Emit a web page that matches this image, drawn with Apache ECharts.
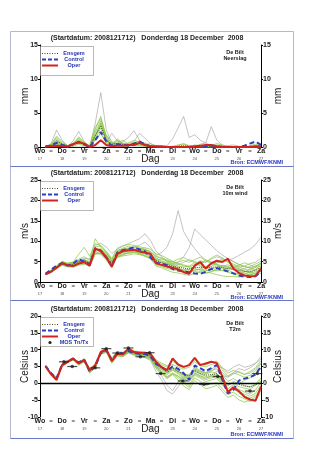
<!DOCTYPE html>
<html>
<head>
<meta charset="utf-8">
<script src="https://cdn.jsdelivr.net/npm/echarts@6/dist/echarts.min.js"></script>
<style>
  html, body { margin: 0; padding: 0; background: #fff; }
  #chart { width: 327px; height: 450px; }
</style>
</head>
<body>
<div id="chart"></div>
<script>
// Forecast steps (hours after 2008121712), 6-hourly up to day 10
const hours = [6,12,18,24,30,36,42,48,54,60,66,72,78,84,90,96,102,108,114,120,
               126,132,138,144,150,156,162,168,174,180,186,192,198,204,210,216,222,228,234,240];

// Day labels on the time axis (one per 24 h) and dates below them
const dayNames = ['Wo','Do','Vr','Za','Zo','Ma','Di','Wo','Do','Vr','Za'];
const dayDates = ['17','18','19','20','21','22','23','24','25','26','27'];

// ---------------- Neerslag (mm) ----------------
const precipOper    = [0.1,0.1,0.2,0.1,0.1,0.4,0.7,0.5,0.0,0.3,1.0,0.3,0.1,0.2,0.2,0.3,0.3,0.6,0.3,0.1,0.1,0.1,0,0,0,0,0,0.1,0.2,0.3,0.3,0.1,0,0,0,0,0,0,0.1,0.1];
const precipControl = [0.1,0.2,0.6,0.3,0.1,0.4,0.7,0.4,0.0,1.0,2.2,0.8,0.2,0.4,0.3,0.2,0.5,0.8,0.4,0.1,0,0,0,0,0,0,0,0,0,0.1,0.2,0.1,0,0,0,0,0.2,0.5,0.8,0.3];
const precipMean    = [0.05,0.2,0.9,0.4,0.1,0.4,0.9,0.4,0.05,1.7,3.1,1.0,0.4,0.5,0.4,0.3,0.5,0.6,0.3,0.1,0,0,0,0,0.1,0.2,0.1,0.1,0.1,0.1,0.1,0.1,0.1,0,0,0,0,0.1,0.1,0.1];
const precipMembers = [
  [0,0.3,1.4,0.6,0.1,0.5,1.2,0.4,0,1.8,3.6,1.0,0.4,0.8,0.3,0.2,0.6,0.9,0.4,0.1,0,0,0,0,0,0,0.1,0.3,0.2,0,0,0,0,0,0,0,0,0.1,0.2,0.1],
  [0,0.2,0.8,0.3,0,0.3,1.5,0.7,0.1,2.6,4.5,1.4,0.3,1.2,0.5,0.2,0.3,0.5,0.2,0,0,0.1,0,0,0,0,0,0,0.4,0.6,0.2,0,0,0,0,0,0,0,0,0],
  [0,0.1,0.5,0.2,0,0.2,0.9,0.5,0,1.2,2.8,0.8,0.6,0.4,0.2,0.6,1.0,0.7,0.3,0.5,0.2,0,0,0,0,0,0,0,0,0,0,0.3,0.2,0,0,0,0,0,0,0],
  [0,0.4,1.6,0.8,0.2,0.6,1.0,0.3,0,2.2,3.9,1.2,0.2,0.6,1.0,0.4,0.2,0.4,0.6,0.2,0,0,0,0,0.2,0.4,0.1,0,0,0,0,0,0,0,0,0,0,0,0,0],
  [0,0.1,0.3,0.1,0,0.4,0.6,0.2,0,1.5,3.2,1.8,0.8,0.3,0.1,0.1,0.4,0.8,0.5,0.2,0,0,0,0,0,0,0,0,0,0,0.2,0.5,0.3,0.1,0,0,0,0,0,0],
  [0,0.2,1.0,0.5,0.1,0.1,0.4,0.2,0,1.0,2.0,0.6,0.3,0.2,0.2,0.3,0.7,0.4,0.2,0.1,0,0,0,0,0,0,0,0,0,0,0,0,0,0,0,0,0,0,0,0],
  [0,0.3,1.2,0.4,0,0.5,1.3,0.6,0.2,2.9,4.2,1.6,0.5,1.0,0.6,0.4,0.5,0.3,0.1,0,0,0,0,0.1,0.3,0.5,0.2,0,0,0,0,0,0,0,0,0,0,0,0,0],
  [0,0,0.4,0.2,0,0.3,0.8,0.4,0,1.6,3.4,0.9,0.2,0.5,0.3,0.2,0.2,0.2,0.1,0,0,0,0,0,0,0,0,0,0,0,0,0,0.1,0.2,0.3,0.1,0,0.2,0.4,0.2]
];
const precipOutliers = [
  [0,0.5,2.5,1.0,0.2,0.4,0.8,0.3,0.1,3.5,8.0,2.5,0.6,0.3,0.8,1.4,2.4,1.0,0.4,0.2,0,0,0,0,0,0,0,0,0,0,0,0,0,0,0,0,0,0,0,0],
  [0,0.2,0.6,0.3,0.1,0.9,2.3,0.8,0.1,1.2,2.0,0.7,2.0,0.9,0.4,0.5,0.8,2.0,1.3,0.5,0,0,0,0,0,0,0,0,0,0,0,0,0,0,0,0,0,0,0,0],
  [0,0,0,0,0,0,0,0,0,0,0,0,0,0,0,0,0,0,0,0,0,0,0.2,1.2,2.8,4.5,1.4,1.8,1.0,0.6,3.0,1.0,0.3,0,0,0,0,0,0,0]
];

// ---------------- 10m wind (m/s) ----------------
const windOper    = [1.9,2.5,3.5,4.6,4.1,3.9,4.5,4.9,4.0,8.2,7.6,6.0,3.8,6.9,7.6,7.8,7.9,7.5,7.2,6.9,4.6,4.2,3.8,3.5,3.1,2.4,2.0,4.0,4.9,3.3,4.6,5.2,4.9,5.7,3.3,2.2,1.6,1.4,1.5,3.3];
const windControl = [2.0,3.0,4.0,4.6,4.0,4.5,5.6,5.0,4.3,8.3,7.7,6.0,3.9,7.2,7.8,8.1,8.5,8.0,7.5,6.0,4.7,4.5,4.1,3.2,2.8,2.6,2.4,2.1,2.0,2.5,3.2,3.4,3.0,2.6,2.1,1.6,1.3,1.2,1.4,2.6];
const windMean    = [2.0,2.6,3.6,4.6,4.2,4.2,4.9,5.2,4.6,8.0,7.8,6.4,4.6,6.9,7.4,7.7,7.8,7.5,7.2,6.6,5.2,4.7,4.2,3.8,3.6,3.4,3.2,3.5,3.6,3.5,3.6,3.7,3.5,3.3,3.0,2.8,2.6,2.6,2.8,3.6];
const windMembers = [
  [2.1,2.8,3.9,5.1,4.6,4.8,5.6,6.2,5.4,10.6,8.5,7.2,5.1,7.6,8.3,8.8,8.4,8.1,7.9,7.4,6.2,5.8,5.1,4.6,4.9,5.3,4.8,5.5,6.1,5.2,4.4,4.9,5.6,4.8,4.1,3.6,3.9,4.5,4.8,5.9],
  [1.8,2.4,3.3,4.2,3.8,3.6,4.1,4.4,3.9,7.1,7.0,5.6,3.8,6.1,6.8,7.1,7.3,6.9,6.4,5.6,3.9,3.5,2.9,2.4,2.2,1.9,1.6,2.1,2.6,2.4,2.2,1.8,1.5,1.3,1.4,1.2,1.5,1.9,1.7,2.2],
  [2.0,2.7,3.7,4.8,4.5,4.9,6.8,8.5,6.3,9.4,9.0,7.6,5.8,8.3,8.9,9.2,9.0,8.6,8.4,8.0,6.9,6.5,5.8,5.1,4.4,4.0,3.6,4.3,5.2,4.8,5.9,6.6,5.9,5.0,4.4,3.8,3.1,2.9,3.6,4.8],
  [2.2,2.9,3.8,4.4,3.9,4.0,4.6,4.7,4.1,7.5,7.8,6.6,4.9,7.4,7.9,8.1,8.6,8.3,8.1,7.2,5.6,4.8,4.5,4.1,3.5,2.8,2.5,3.0,3.1,3.8,4.3,4.1,3.4,2.9,2.3,2.0,2.4,3.2,3.9,4.3],
  [1.9,2.5,3.5,4.7,4.4,4.3,5.0,5.3,4.7,8.4,7.3,5.9,4.2,6.4,6.9,7.0,7.2,7.6,7.8,7.0,5.3,5.1,4.8,4.4,3.9,3.7,3.9,4.7,3.9,3.4,3.0,2.7,2.9,3.6,3.8,3.3,2.7,2.2,2.5,3.0],
  [2.0,2.6,3.4,4.5,4.0,3.9,4.4,4.6,4.4,7.9,8.1,6.9,5.3,6.0,6.4,6.6,6.9,6.7,6.3,5.8,4.5,4.0,3.6,3.3,3.0,2.6,2.2,2.8,3.2,2.9,2.6,3.2,3.9,4.2,3.7,3.1,2.6,2.3,2.0,2.6],
  [2.1,2.7,3.8,4.9,4.6,4.6,5.3,5.5,4.8,8.0,7.4,6.1,4.0,7.1,7.8,8.0,7.8,7.1,6.9,6.4,5.4,5.6,5.3,4.9,5.6,6.0,5.3,4.8,4.2,3.6,3.8,4.6,5.2,5.8,5.0,4.3,3.9,3.4,3.0,3.5],
  [1.8,2.5,3.6,4.3,4.1,4.4,5.1,5.4,4.6,7.0,6.8,5.4,3.4,6.5,7.3,7.5,7.4,7.0,6.6,6.0,4.2,3.8,3.3,3.0,2.8,3.0,2.9,2.6,2.3,2.1,2.5,3.0,2.8,2.4,2.0,1.7,1.9,2.4,3.1,4.1],
  [2.0,2.8,3.9,5.0,4.3,4.1,4.9,5.2,4.9,8.6,8.8,7.3,5.5,7.8,8.1,8.3,7.9,7.7,7.5,6.8,5.9,5.2,4.6,4.0,3.3,2.9,3.1,3.8,4.6,5.4,4.9,4.3,3.7,3.2,3.5,4.1,4.7,4.2,3.6,3.9],
  [1.9,2.4,3.2,4.1,3.7,3.8,4.3,4.5,3.8,6.8,7.1,6.4,4.7,6.2,6.6,7.2,7.7,8.2,8.0,7.5,6.3,5.9,5.4,4.9,4.5,4.2,3.8,3.3,2.9,2.7,3.1,3.6,4.0,3.8,3.2,2.6,2.1,1.8,2.2,3.1]
];
const windOutliers = [
  [2.0,2.6,3.5,4.6,4.3,4.4,5.0,5.5,5.0,8.2,8.0,7.0,5.5,7.5,8.0,8.3,8.6,9.0,9.8,8.5,6.5,7.2,8.6,11.8,17.5,12.4,10.0,8.2,6.5,5.4,4.8,4.3,4.0,3.6,3.2,3.0,3.3,3.8,4.4,5.1],
  [2.1,2.7,3.7,4.8,4.4,4.6,5.3,5.8,5.6,9.0,9.5,8.6,7.0,8.0,8.8,9.4,10.0,10.6,11.8,10.2,7.6,6.2,5.0,4.4,4.8,6.2,8.4,13.0,11.6,10.3,9.0,7.7,6.6,5.8,5.0,4.3,3.7,3.5,3.9,4.6],
  [1.9,2.5,3.4,4.4,4.0,4.0,4.7,5.0,4.6,7.4,7.0,5.8,4.4,6.6,7.2,7.4,7.6,7.3,7.0,6.3,5.0,4.7,4.4,4.1,4.3,4.8,5.5,5.0,4.6,4.9,5.6,6.2,5.7,5.2,5.8,6.5,7.3,8.0,9.2,11.0]
];

// ---------------- T2m (Celsius) ----------------
const tempOper    = [5.0,2.7,1.0,5.4,6.4,7.4,5.9,6.9,3.9,5.4,9.3,10.1,6.6,8.8,8.6,10.3,9.3,9.1,9.1,8.8,6.4,4.8,3.9,7.4,5.6,4.9,5.4,7.6,5.4,5.9,6.4,6.0,2.0,-2.6,-1.2,-2.3,-4.0,-4.8,-5.2,-1.0];
const tempControl = [5.2,3.0,1.6,5.6,6.6,7.3,6.2,7.0,3.5,5.0,9.0,9.8,7.0,9.0,8.9,9.6,9.0,8.8,8.7,8.0,5.8,4.8,3.8,5.0,4.3,3.0,1.0,5.3,4.5,3.6,4.5,5.5,1.0,-3.0,-2.0,0.8,1.4,1.8,2.6,5.0];
const tempMean    = [5.1,2.9,1.4,5.5,6.5,7.2,6.0,6.8,3.8,5.2,9.1,9.8,6.9,8.8,8.6,9.8,9.1,8.8,8.6,8.1,5.8,4.6,3.3,4.5,3.6,2.6,2.2,3.8,2.9,2.4,2.6,2.8,1.3,-0.4,0.2,-0.3,-0.8,-1.0,-0.5,0.6];
const tempMembers = [
  [5.0,2.8,1.2,5.2,6.2,7.0,5.7,6.6,3.4,4.9,8.8,9.6,6.4,8.4,8.2,9.4,8.8,8.4,8.2,7.6,5.1,3.6,2.0,3.1,2.2,0.4,-0.6,2.4,1.6,0.5,1.0,1.4,-0.5,-2.2,-1.4,-2.9,-3.8,-4.4,-3.6,-1.8],
  [5.3,3.2,1.8,5.8,6.8,7.5,6.3,7.2,4.2,5.6,9.4,10.2,7.3,9.2,9.0,10.1,9.5,9.3,9.0,8.6,6.6,5.6,4.8,5.6,4.9,4.2,4.8,6.4,5.2,4.9,5.6,6.1,4.0,2.2,3.1,2.5,1.8,2.4,3.6,5.9],
  [5.1,2.6,0.9,5.1,6.4,7.1,5.4,6.4,3.0,4.6,8.6,9.2,6.0,8.1,7.9,9.0,8.4,8.0,7.8,7.1,4.4,2.9,1.4,2.6,1.0,-0.8,-1.9,0.8,-0.4,-1.6,-1.2,-0.6,-2.4,-4.2,-3.5,-4.9,-5.6,-5.0,-4.1,-2.3],
  [4.9,3.0,1.5,5.6,6.6,7.4,6.1,7.0,4.0,5.5,9.2,9.9,7.0,9.0,8.7,9.9,9.2,9.0,8.9,8.4,6.2,5.1,3.9,4.9,3.8,2.8,2.5,4.6,3.5,3.1,3.8,4.3,2.6,0.6,1.4,0.4,-0.6,-1.2,-0.2,1.6],
  [5.2,2.9,1.3,5.3,6.3,7.3,5.8,6.7,3.7,5.1,9.0,9.7,6.7,8.7,8.4,9.7,9.0,8.7,8.5,7.9,5.5,4.2,3.0,4.0,3.1,1.7,1.1,3.2,2.3,1.6,2.0,2.4,0.4,-1.6,-0.5,-1.8,-2.6,-3.2,-2.0,0.4],
  [5.0,2.7,1.1,5.4,6.5,7.2,6.0,6.9,3.6,5.0,9.1,9.9,6.8,8.9,8.6,9.9,9.2,8.9,8.7,8.2,5.9,4.7,3.4,4.6,3.5,2.2,1.6,4.0,3.2,2.7,3.4,3.0,0.8,-0.8,0.6,-0.2,0.9,1.6,2.9,4.5],
  [5.2,3.1,1.7,5.7,6.7,7.2,6.4,7.3,4.4,5.8,9.5,10.3,7.6,9.4,9.2,10.4,9.6,9.4,9.2,8.9,7.0,6.0,5.2,6.6,5.4,4.6,5.8,6.9,5.8,5.4,6.3,6.6,4.6,3.0,3.8,3.3,2.6,3.5,4.6,6.8],
  [4.8,2.6,1.0,5.0,6.0,7.0,5.5,6.5,3.2,4.7,8.7,9.4,6.2,8.3,8.0,9.2,8.6,8.2,8.0,7.4,4.8,3.2,1.8,2.9,1.6,0.1,-1.2,1.6,0.6,-0.6,-0.2,0.2,-1.6,-3.4,-2.6,-3.8,-4.6,-5.4,-4.8,-3.0],
  [5.1,2.8,1.4,5.5,6.6,7.3,6.0,6.9,3.8,5.3,9.2,9.9,6.9,8.9,8.7,9.8,9.1,8.8,8.6,8.0,5.6,4.4,3.2,4.3,3.4,2.4,2.0,3.6,2.8,2.0,2.2,2.6,1.6,-0.2,0.0,-1.0,-1.4,-1.8,-0.6,1.2],
  [5.0,2.8,1.3,5.4,6.4,7.2,6.0,6.8,3.7,5.2,9.1,9.8,6.8,8.8,8.5,9.7,9.0,8.8,8.5,7.9,5.3,3.9,2.6,3.9,2.8,1.4,0.6,2.8,1.9,1.1,1.6,2.0,0.0,-2.4,-1.8,-2.4,-3.2,-3.8,-3.0,-0.4]
];
const tempOutliers = [
  [5.0,2.7,1.2,5.3,6.3,7.1,5.8,6.7,3.5,5.0,8.9,9.5,6.5,8.5,8.1,9.2,8.5,8.0,7.6,6.8,3.5,1.0,-2.2,-3.2,-1.0,1.2,0.5,3.0,2.2,1.4,2.3,3.6,2.4,1.8,3.2,4.4,3.8,4.6,5.8,8.0],
  [5.1,2.9,1.4,5.5,6.5,7.2,6.0,6.9,3.8,5.2,9.0,9.6,6.8,8.6,8.3,9.5,8.7,8.3,8.0,7.3,4.6,2.3,-0.6,-2.2,0.4,2.0,1.5,4.2,3.6,3.2,4.1,5.4,4.6,3.6,4.8,5.6,4.8,5.2,6.0,7.2],
  [5.0,2.8,1.3,5.4,6.4,7.2,5.9,6.8,3.7,5.1,9.0,9.6,6.7,8.5,8.2,9.3,8.8,8.6,8.2,7.6,5.2,3.4,1.6,2.8,2.1,1.3,2.6,4.8,3.8,3.0,3.6,4.9,3.2,1.8,2.8,3.5,2.7,3.0,4.2,6.2]
];

// MOS minimum / maximum temperature guidance
const mosHours = [26, 35, 60, 72, 84, 96, 109, 119, 131, 155, 178, 193, 228, 236];
const mosTnTx  = [6.4, 5.0, 4.6, 10.3, 9.0, 10.5, 7.9, 9.1, 2.9, 0.7, -0.3, 2.0, -2.3, 2.9];

// ---------------- styling ----------------
const FONT = '"Liberation Sans", Arial, sans-serif';
const C_MEMBER = '#86c440';
const C_OUTLIER = '#a9a9a9';
const C_MEAN = '#4a4a28';
const C_CONTROL = '#2a3fc4';
const C_OPER = '#d42222';
const C_LEGEND_TXT = '#2632b4';

const panels = [
  { top: 45,  height: 102, min: 0,   max: 15, unit: 'mm',      label: 'Neerslag',
    members: precipMembers, outliers: precipOutliers, mean: precipMean, control: precipControl, oper: precipOper },
  { top: 180, height: 102, min: 0,   max: 25, unit: 'm/s',     label: '10m wind',
    members: windMembers, outliers: windOutliers, mean: windMean, control: windControl, oper: windOper },
  { top: 316, height: 101, min: -10, max: 20, unit: 'Celsius', label: 'T2m',
    members: tempMembers, outliers: tempOutliers, mean: tempMean, control: tempControl, oper: tempOper }
];

const pairs = arr => hours.map((h, i) => [h, arr[i]]);

const grid = [], xAxis = [], yAxis = [], series = [], graphic = [];

panels.forEach((p, k) => {
  grid.push({ left: 40, width: 221, top: p.top, height: p.height });

  xAxis.push({
    type: 'value', gridIndex: k, min: 0, max: 240, interval: 12,
    name: 'Dag', nameLocation: 'middle', nameGap: 7, nameMoveOverlap: false,
    nameTextStyle: { fontFamily: FONT, fontSize: 10, color: '#222' },
    axisLine: { lineStyle: { color: '#000', width: 1 } },
    axisTick: { show: false },
    splitLine: { show: false },
    axisLabel: {
      margin: 1, showMinLabel: true, showMaxLabel: true, hideOverlap: false,
      formatter: v => {
        if (v % 24 === 0) { const d = v / 24; return '{d|' + dayNames[d] + '}\n{s|' + dayDates[d] + '}'; }
        return '{m|=}';
      },
      rich: {
        d: { fontFamily: FONT, fontSize: 7, fontWeight: 'bold', color: '#222', lineHeight: 7 },
        s: { fontFamily: FONT, fontSize: 4, color: '#555', lineHeight: 8 },
        m: { fontFamily: FONT, fontSize: 6, fontWeight: 'bold', color: '#333', lineHeight: 7 }
      }
    }
  });

  ['left', 'right'].forEach(pos => {
    yAxis.push({
      type: 'value', gridIndex: k, position: pos, min: p.min, max: p.max, interval: 5,
      name: p.unit, nameLocation: 'middle', nameRotate: 90, nameMoveOverlap: false,
      nameGap: pos === 'left' ? 10 : 12,
      nameTextStyle: { fontFamily: FONT, fontSize: 10, color: '#222' },
      axisLine: { show: true, lineStyle: { color: '#000', width: 1 } },
      axisTick: { show: true, length: 2, lineStyle: { color: '#000' } },
      splitLine: { show: false },
      axisLabel: { fontFamily: FONT, fontSize: 7, fontWeight: 'bold', color: '#222', margin: 2 }
    });
  });

  const base = { type: 'line', xAxisIndex: k, yAxisIndex: 2 * k, showSymbol: false, silent: true, animation: false };

  p.outliers.forEach(m => series.push(Object.assign({}, base, {
    data: pairs(m), lineStyle: { color: C_OUTLIER, width: 0.7 }, z: 2 })));
  p.members.forEach(m => series.push(Object.assign({}, base, {
    data: pairs(m), lineStyle: { color: C_MEMBER, width: 0.7 }, z: 3 })));

  const meanSeries = Object.assign({}, base, {
    data: pairs(p.mean), lineStyle: { color: C_MEAN, width: 1, type: 'dotted' }, z: 4 });
  if (k === 2) {
    meanSeries.markLine = {
      silent: true, symbol: 'none', label: { show: false },
      lineStyle: { color: '#000', width: 1.4, type: 'solid' },
      data: [{ yAxis: 0 }]
    };
  }
  series.push(meanSeries);
  series.push(Object.assign({}, base, {
    data: pairs(p.control), lineStyle: { color: C_CONTROL, width: 2, type: [5, 3] }, z: 5 }));
  series.push(Object.assign({}, base, {
    data: pairs(p.oper), lineStyle: { color: C_OPER, width: 2 }, z: 6 }));

  // Frame, title and annotations
  const boxTop = [31, 166, 300][k];
  const boxBottom = [166, 300, 438][k];
  graphic.push({ type: 'rect', shape: { x: 10.5, y: boxTop + 0.5, width: 283, height: boxBottom - boxTop },
    style: { fill: 'none', stroke: '#b4b8d4', lineWidth: 1 }, z: 0 });
  graphic.push({ type: 'line', shape: { x1: 10.5, y1: boxBottom + 0.5, x2: 293.5, y2: boxBottom + 0.5 },
    style: { stroke: '#6a76c8', lineWidth: 1 }, z: 1 });

  const titleY = [38, 173, 309][k];
  graphic.push({ type: 'text', x: 147, y: titleY, z: 10,
    style: { text: '(Startdatum: 2008121712)   Donderdag 18 December  2008', fontFamily: FONT,
             fontSize: 7, fontWeight: 'bold', fill: '#222', align: 'center', verticalAlign: 'middle' } });

  graphic.push({ type: 'text', x: 235, y: p.top + 7, z: 10,
    style: { text: 'De Bilt', fontFamily: FONT, fontSize: 5.5, fontWeight: 'bold', fill: '#222', align: 'center', verticalAlign: 'middle' } });
  graphic.push({ type: 'text', x: 235, y: p.top + 13, z: 10,
    style: { text: p.label, fontFamily: FONT, fontSize: 5.5, fontWeight: 'bold', fill: '#222', align: 'center', verticalAlign: 'middle' } });

  graphic.push({ type: 'text', x: 283, y: [162, 297, 434][k], z: 10,
    style: { text: 'Bron: ECMWF/KNMI', fontFamily: FONT, fontSize: 5.5, fontWeight: 'bold', fill: '#2a36c0', align: 'right', verticalAlign: 'middle' } });

  // Legend box
  const entries = [
    { name: 'Ensgem', color: C_MEAN, dash: [1, 1.5], w: 1 },
    { name: 'Control', color: C_CONTROL, dash: [4, 2], w: 2 },
    { name: 'Oper', color: C_OPER, dash: null, w: 2 }
  ];
  if (k === 2) entries.push({ name: 'MOS Tn/Tx', dot: true });
  const lh = 6;
  const lTop = p.top + 1;
  const lHeight = 29;
  graphic.push({ type: 'rect', shape: { x: 40.5, y: lTop + 0.5, width: 53, height: lHeight },
    style: { fill: '#fff', stroke: '#888', lineWidth: 0.6 }, z: 8 });
  entries.forEach((e, j) => {
    const y = lTop + 7.5 + j * lh;
    if (e.dot) {
      graphic.push({ type: 'circle', shape: { cx: 50, cy: y, r: 1.6 }, style: { fill: '#222' }, z: 9 });
    } else {
      graphic.push({ type: 'line', shape: { x1: 42, y1: y, x2: 58, y2: y },
        style: { stroke: e.color, lineWidth: e.w, lineDash: e.dash }, z: 9 });
    }
    graphic.push({ type: 'text', x: 74, y: y, z: 9,
      style: { text: e.name, fontFamily: FONT, fontSize: 5.5, fontWeight: 'bold', fill: C_LEGEND_TXT, align: 'center', verticalAlign: 'middle' } });
  });
});

// MOS markers (dot with short horizontal bar)
const mosData = mosHours.map((h, i) => [h, mosTnTx[i]]);
series.push({ type: 'scatter', xAxisIndex: 2, yAxisIndex: 4, data: mosData, silent: true, animation: false,
  symbol: 'rect', symbolSize: [10, 1.2], itemStyle: { color: '#222' }, z: 7 });
series.push({ type: 'scatter', xAxisIndex: 2, yAxisIndex: 4, data: mosData, silent: true, animation: false,
  symbol: 'circle', symbolSize: 3.5, itemStyle: { color: '#222' }, z: 7 });

const chart = echarts.init(document.getElementById('chart'), null, { renderer: 'canvas' });
chart.setOption({
  backgroundColor: '#ffffff',
  animation: false,
  grid, xAxis, yAxis, series, graphic
});
</script>
</body>
</html>
